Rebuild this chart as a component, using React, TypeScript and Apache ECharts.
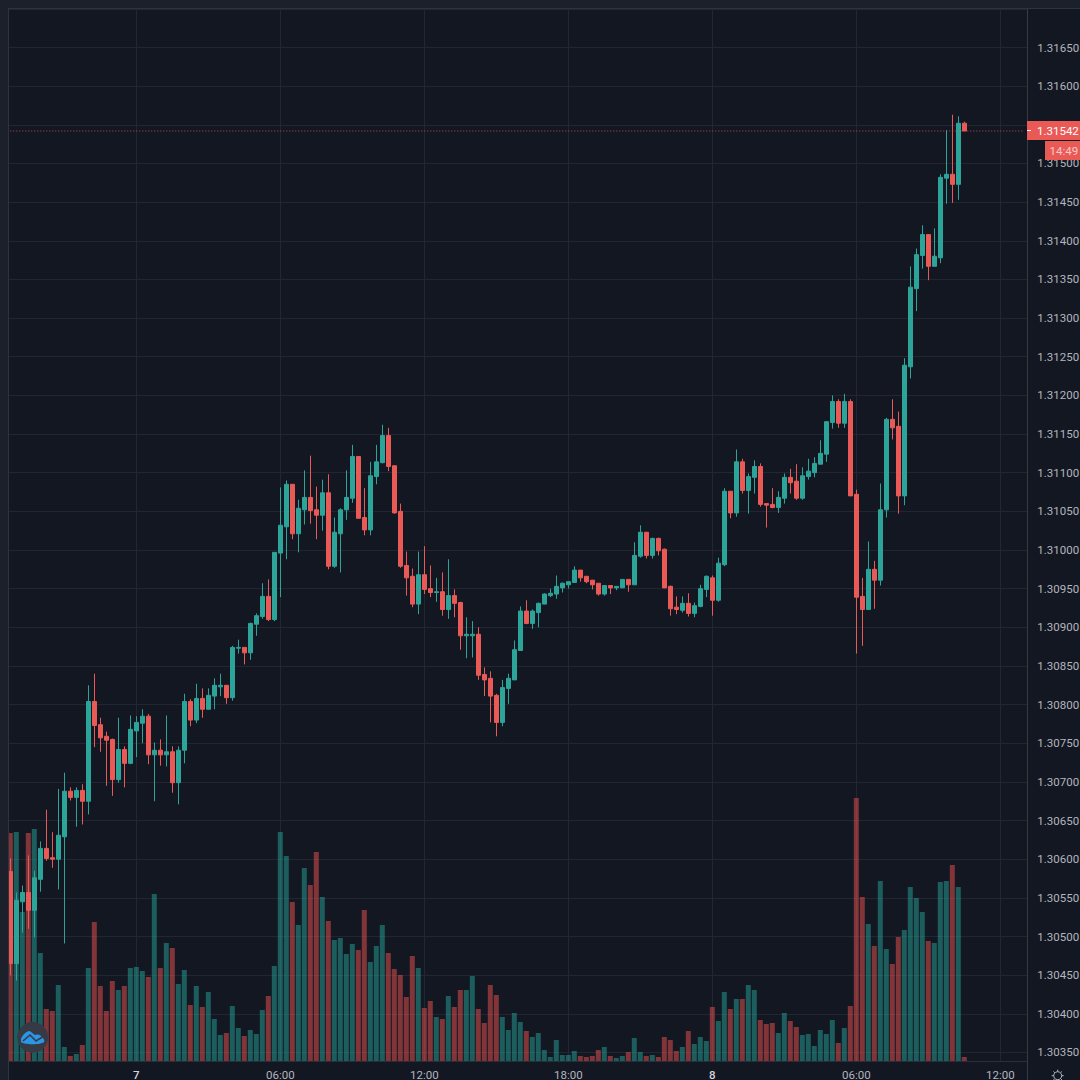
import React, { useEffect, useRef } from "react";
import * as echarts from "echarts";

const opens = [
  1.30584,1.30465,1.30545,1.30557,1.30534,1.30574,1.30614,1.30602,1.30600,1.30629,
  1.30688,1.30680,1.30689,1.30675,1.30804,1.30774,1.30759,1.30755,1.30703,1.30742,
  1.30724,1.30766,1.30776,1.30785,1.30735,1.30741,1.30735,1.30739,1.30699,1.30741,
  1.30804,1.30780,1.30808,1.30794,1.30811,1.30823,1.30825,1.30809,1.30873,1.30874,
  1.30867,1.30904,1.30914,1.30940,1.30910,1.30996,1.31030,1.31085,1.31021,1.31052,
  1.31068,1.31052,1.31045,1.31074,1.30979,1.31021,1.31052,1.31067,1.31121,1.31042,
  1.31026,1.31095,1.31113,1.31148,1.31109,1.31050,1.30980,1.30966,1.30930,1.30968,
  1.30950,1.30945,1.30946,1.30923,1.30941,1.30932,1.30889,1.30889,1.30891,1.30839,
  1.30834,1.30812,1.30777,1.30821,1.30832,1.30870,1.30921,1.30905,1.30919,1.30930,
  1.30941,1.30943,1.30951,1.30955,1.30958,1.30974,1.30966,1.30961,1.30957,1.30943,
  1.30954,1.30951,1.30951,1.30962,1.30955,1.30992,1.31023,1.30993,1.31015,1.31001,
  1.30953,1.30926,1.30922,1.30931,1.30918,1.30927,1.30949,1.30964,1.30935,1.30981,
  1.31076,1.31048,1.31114,1.31077,1.31094,1.31108,1.31060,1.31059,1.31055,1.31067,
  1.31094,1.31089,1.31067,1.31095,1.31100,1.31111,1.31124,1.31165,1.31192,1.31164,
  1.31192,1.31072,1.30940,1.30923,1.30975,1.30961,1.31052,1.31169,1.31160,1.31070,
  1.31237,1.31338,1.31381,1.31408,1.31367,1.31378,1.31481,1.31486,1.31473,1.31552,
];
const closes = [
  1.30465,1.30547,1.30557,1.30534,1.30576,1.30614,1.30601,1.30600,1.30631,1.30688,
  1.30680,1.30689,1.30675,1.30804,1.30773,1.30757,1.30754,1.30703,1.30742,1.30724,
  1.30768,1.30777,1.30785,1.30735,1.30741,1.30735,1.30739,1.30699,1.30741,1.30804,
  1.30780,1.30808,1.30794,1.30812,1.30825,1.30825,1.30809,1.30874,1.30874,1.30867,
  1.30905,1.30915,1.30940,1.30910,1.30997,1.31032,1.31085,1.31021,1.31054,1.31068,
  1.31051,1.31045,1.31074,1.30979,1.31023,1.31052,1.31068,1.31121,1.31041,1.31026,
  1.31096,1.31114,1.31148,1.31108,1.31048,1.30979,1.30964,1.30930,1.30968,1.30949,
  1.30945,1.30946,1.30923,1.30941,1.30931,1.30889,1.30891,1.30891,1.30838,1.30832,
  1.30811,1.30777,1.30822,1.30834,1.30871,1.30921,1.30905,1.30921,1.30931,1.30943,
  1.30944,1.30953,1.30957,1.30959,1.30974,1.30964,1.30959,1.30955,1.30943,1.30954,
  1.30951,1.30953,1.30962,1.30955,1.30993,1.31023,1.30993,1.31015,1.30999,1.30951,
  1.30924,1.30923,1.30931,1.30918,1.30928,1.30950,1.30966,1.30935,1.30983,1.31076,
  1.31048,1.31114,1.31077,1.31095,1.31108,1.31059,1.31058,1.31055,1.31068,1.31094,
  1.31087,1.31067,1.31096,1.31102,1.31112,1.31125,1.31166,1.31192,1.31164,1.31192,
  1.31070,1.30939,1.30923,1.30975,1.30961,1.31052,1.31169,1.31158,1.31070,1.31239,
  1.31340,1.31382,1.31408,1.31367,1.31380,1.31482,1.31486,1.31473,1.31552,1.31542,
];
const lows = [
  1.30450,1.30443,1.30505,1.30510,1.30499,1.30558,1.30598,1.30589,1.30561,1.30491,
  1.30676,1.30642,1.30645,1.30658,1.30745,1.30739,1.30695,1.30682,1.30699,1.30693,
  1.30723,1.30732,1.30750,1.30723,1.30675,1.30721,1.30720,1.30686,1.30671,1.30724,
  1.30772,1.30776,1.30783,1.30794,1.30794,1.30811,1.30801,1.30805,1.30866,1.30852,
  1.30858,1.30889,1.30911,1.30908,1.30908,1.30939,1.30988,1.31014,1.30997,1.31033,
  1.31034,1.31014,1.31025,1.30975,1.30977,1.30971,1.31039,1.31061,1.31041,1.31019,
  1.31019,1.31085,1.31112,1.31102,1.31047,1.30977,1.30941,1.30926,1.30917,1.30943,
  1.30939,1.30933,1.30915,1.30911,1.30913,1.30871,1.30860,1.30861,1.30832,1.30811,
  1.30777,1.30759,1.30772,1.30801,1.30832,1.30870,1.30904,1.30898,1.30900,1.30930,
  1.30939,1.30937,1.30945,1.30950,1.30958,1.30959,1.30957,1.30949,1.30941,1.30941,
  1.30943,1.30948,1.30951,1.30946,1.30955,1.30990,1.30989,1.30989,1.30993,1.30951,
  1.30915,1.30917,1.30919,1.30914,1.30913,1.30926,1.30939,1.30915,1.30933,1.30979,
  1.31041,1.31043,1.31073,1.31047,1.31073,1.31056,1.31029,1.31054,1.31048,1.31060,
  1.31073,1.31065,1.31065,1.31091,1.31094,1.31111,1.31114,1.31157,1.31158,1.31158,
  1.31070,1.30866,1.30876,1.30923,1.30924,1.30954,1.31042,1.31143,1.31047,1.31058,
  1.31222,1.31309,1.31364,1.31349,1.31367,1.31371,1.31448,1.31449,1.31453,1.31542,
];
const highs = [
  1.30601,1.30557,1.30566,1.30605,1.30585,1.30623,1.30664,1.30635,1.30691,1.30712,
  1.30693,1.30693,1.30697,1.30825,1.30840,1.30783,1.30765,1.30756,1.30783,1.30746,
  1.30786,1.30785,1.30794,1.30788,1.30751,1.30755,1.30786,1.30746,1.30746,1.30814,
  1.30807,1.30827,1.30821,1.30821,1.30834,1.30840,1.30825,1.30876,1.30884,1.30874,
  1.30906,1.30918,1.30957,1.30962,1.30997,1.31081,1.31090,1.31085,1.31065,1.31103,
  1.31122,1.31082,1.31091,1.31098,1.31042,1.31054,1.31103,1.31136,1.31121,1.31080,
  1.31114,1.31136,1.31162,1.31158,1.31109,1.31060,1.30998,1.30976,1.30998,1.31005,
  1.30980,1.30964,1.30971,1.30988,1.30949,1.30933,1.30913,1.30908,1.30900,1.30848,
  1.30843,1.30814,1.30832,1.30840,1.30883,1.30927,1.30935,1.30923,1.30932,1.30944,
  1.30950,1.30967,1.30958,1.30959,1.30979,1.30974,1.30966,1.30961,1.30957,1.30954,
  1.30954,1.30953,1.30962,1.30962,1.31010,1.31032,1.31023,1.31016,1.31016,1.31002,
  1.30954,1.30940,1.30940,1.30944,1.30932,1.30955,1.30967,1.30967,1.30990,1.31080,
  1.31076,1.31130,1.31118,1.31099,1.31116,1.31112,1.31060,1.31080,1.31076,1.31099,
  1.31105,1.31111,1.31107,1.31118,1.31120,1.31142,1.31166,1.31200,1.31195,1.31202,
  1.31195,1.31078,1.30964,1.31011,1.30986,1.31086,1.31171,1.31195,1.31179,1.31248,
  1.31367,1.31390,1.31420,1.31408,1.31416,1.31486,1.31543,1.31563,1.31561,1.31554,
];
const volumes = [
  2280,2290,1490,2280,2320,1080,520,500,760,140,
  50,70,160,930,1390,750,500,800,710,750,
  930,940,900,840,1670,930,1180,1130,770,910,
  560,750,540,690,420,260,280,550,330,250,
  310,270,510,650,950,2290,2050,1590,1360,1930,
  1760,2090,1640,1400,1210,1230,1070,1170,1110,1510,
  990,1150,1360,1080,920,860,640,1050,930,530,
  600,440,420,650,540,710,710,850,520,380,
  760,660,440,310,480,390,300,240,280,110,
  40,210,60,60,100,50,40,50,110,140,
  50,30,50,90,230,90,50,60,40,240,
  210,100,140,300,170,240,200,540,400,690,
  520,620,620,760,710,410,370,380,280,480,
  400,340,260,270,150,310,270,410,180,330,
  550,2630,1640,1370,1150,1800,1120,970,1240,1310,
  1740,1630,1490,1200,1180,1790,1800,1960,1740,40,
];
const slotCount = 170;
const tickSlots = [21, 45, 69, 93, 117, 141, 165];
const tickLabels = ["7", "06:00", "12:00", "18:00", "8", "06:00", "12:00"];
const dayLabels = ["7", "8"];
const lastPrice = 1.31542;
const lastPriceLabel = "1.31542";
const countdownLabel = "14:49";

const UP = "#2ca499";
const DOWN = "#e95a57";
const BG = "#131722";
const GRID = "#222632";
const FONT = "Roboto";
const TEXT = "#b2b5be";

const LOGO =
  "M0 9 C1 6 4 2 8 1 C10 1 12 4 14 5 C16 4 19 4 21 7 C23 9 24 11 23 12 C20 15 3 15 0 12 Z";

export default function App() {
  const ref = useRef<HTMLDivElement>(null);
  useEffect(() => {
    if (!ref.current) return;
    echarts.graphic.registerShape("logo", echarts.graphic.extendPath(LOGO, {}));
    const chart = echarts.init(ref.current, undefined, { renderer: "svg" });
    const categories = Array.from({ length: slotCount }, (_, i) => String(i));
    const isTick = (i: number) => tickSlots.includes(i);
    const gearTicks = [0, 45, 90, 135, 180, 225, 270, 315].map((a) => {
      const r = (a * Math.PI) / 180;
      return {
        type: "line",
        z: 21,
        shape: {
          x1: 1057.7 + 4 * Math.cos(r),
          y1: 1075.7 + 4 * Math.sin(r),
          x2: 1057.7 + 6 * Math.cos(r),
          y2: 1075.7 + 6 * Math.sin(r),
        },
        style: { stroke: TEXT, lineWidth: 1 },
      };
    });
    chart.setOption({
      animation: false,
      backgroundColor: BG,
      grid: [
        { left: 7.3, width: 1020, top: 8.85, height: 1082.3, containLabel: false, outerBoundsMode: "none" },
        { left: 7.3, width: 1020, top: 791, height: 270, containLabel: false, outerBoundsMode: "none" },
      ],
      xAxis: [
        {
          type: "category",
          gridIndex: 0,
          data: categories,
          z: 0,
          axisLine: { show: false },
          axisTick: { show: false },
          axisLabel: { show: false },
          splitLine: {
            show: true,
            interval: (i: number) => isTick(i),
            alignWithLabel: true,
            lineStyle: { color: GRID, width: 1 },
          },
        },
        {
          type: "category",
          gridIndex: 1,
          data: categories,
          z: 3,
          axisLine: { show: true, lineStyle: { color: "#2a2e39", width: 1 } },
          axisTick: { show: false },
          splitLine: { show: false },
          axisLabel: {
            interval: (i: number) => isTick(i),
            margin: 9,
            fontFamily: FONT,
            fontSize: 11.5,
            lineHeight: 10,
            color: TEXT,
            hideOverlap: false,
            formatter: (v: string) => {
              const k = tickSlots.indexOf(Number(v));
              if (k < 0) return "";
              const t = tickLabels[k];
              return dayLabels.includes(t) ? `{d|${t}}` : t;
            },
            rich: {
              d: { fontFamily: FONT, fontSize: 11.5, lineHeight: 10, fontWeight: 500, color: "#d1d4dc" },
            },
          },
        },
      ],
      yAxis: [
        {
          type: "value",
          gridIndex: 0,
          position: "right",
          min: 1.303,
          max: 1.317,
          interval: 0.0005,
          z: 0,
          axisLine: { show: true, lineStyle: { color: "#363a45", width: 1 } },
          axisTick: { show: false },
          splitLine: { show: true, lineStyle: { color: GRID, width: 1 } },
          axisLabel: {
            margin: 10,
            fontFamily: FONT,
            fontSize: 11.5,
            color: TEXT,
            showMinLabel: false,
            showMaxLabel: false,
            formatter: (v: number) => v.toFixed(5),
          },
        },
        {
          type: "value",
          gridIndex: 1,
          min: 0,
          max: 2700,
          show: false,
        },
      ],
      series: [
        {
          type: "bar",
          xAxisIndex: 1,
          yAxisIndex: 1,
          z: 1,
          barWidth: 5,
          data: volumes.map((v, i) => ({
            value: v,
            itemStyle: {
              color: closes[i] >= opens[i] ? "rgba(38,166,154,0.5)" : "rgba(239,83,80,0.5)",
            },
          })),
        },
        {
          type: "line",
          xAxisIndex: 0,
          yAxisIndex: 0,
          z: 3,
          silent: true,
          showSymbol: false,
          symbol: "none",
          data: categories.map(() => lastPrice),
          lineStyle: { color: DOWN, type: [1, 2], width: 1, opacity: 0.8 },
        },
        {
          type: "candlestick",
          xAxisIndex: 0,
          yAxisIndex: 0,
          z: 2,
          barWidth: 4,
          data: opens.map((o, i) => [o, closes[i], lows[i], highs[i]]),
          itemStyle: {
            color: UP,
            color0: DOWN,
            borderColor: UP,
            borderColor0: DOWN,
            borderWidth: 1,
          },
        },
      ],
      graphic: [
        { type: "rect", z: 1, shape: { x: 9, y: 1061.5, width: 1018, height: 19 }, style: { fill: BG } },
        { type: "rect", z: 6, shape: { x: 0, y: 0, width: 8, height: 1080 }, style: { fill: "#1c202b" } },
        { type: "rect", z: 6, shape: { x: 0, y: 0, width: 1080, height: 8 }, style: { fill: "#1c202b" } },
        { type: "rect", z: 6, shape: { x: 8, y: 8, width: 1, height: 1072 }, style: { fill: "#2f333e" } },
        { type: "rect", z: 6, shape: { x: 8, y: 8, width: 1072, height: 1 }, style: { fill: "#2f333e" } },
        { type: "rect", z: 20, shape: { x: 1027, y: 121, width: 53, height: 19 }, style: { fill: DOWN } },
        { type: "rect", z: 20, shape: { x: 1045, y: 141, width: 35, height: 19 }, style: { fill: DOWN } },
        { type: "rect", z: 21, shape: { x: 1027, y: 130, width: 4, height: 1 }, style: { fill: "#ffffff" } },
        {
          type: "text",
          z: 21,
          x: 1037,
          y: 130.5,
          style: { text: lastPriceLabel, fill: "#ffffff", font: `11.5px ${FONT}`, verticalAlign: "middle" },
        },
        {
          type: "text",
          z: 21,
          x: 1049.5,
          y: 150.5,
          style: { text: countdownLabel, fill: "#f9c9c7", font: `11.5px ${FONT}`, verticalAlign: "middle" },
        },
        { type: "circle", z: 21, shape: { cx: 32.7, cy: 1037.3, r: 15.5 }, style: { fill: "#363a45" } },
        { type: "logo", z: 22, x: 21, y: 1030, style: { fill: "#2a96e8" } },
        {
          type: "polyline",
          z: 23,
          x: 21,
          y: 1030,
          shape: { points: [[2, 11], [9, 5], [15, 11], [23, 6]] },
          style: { stroke: "#363a45", lineWidth: 1.6, fill: "none" },
        },
        { type: "circle", z: 21, shape: { cx: 1057.7, cy: 1075.7, r: 4 }, style: { stroke: TEXT, lineWidth: 1, fill: "none" } },
        ...gearTicks,
      ],
    });
    return () => chart.dispose();
  }, []);
  return (
    <div
      ref={ref}
      style={{ position: "fixed", left: 0, top: 0, width: 1080, height: 1080 }}
    />
  );
}
